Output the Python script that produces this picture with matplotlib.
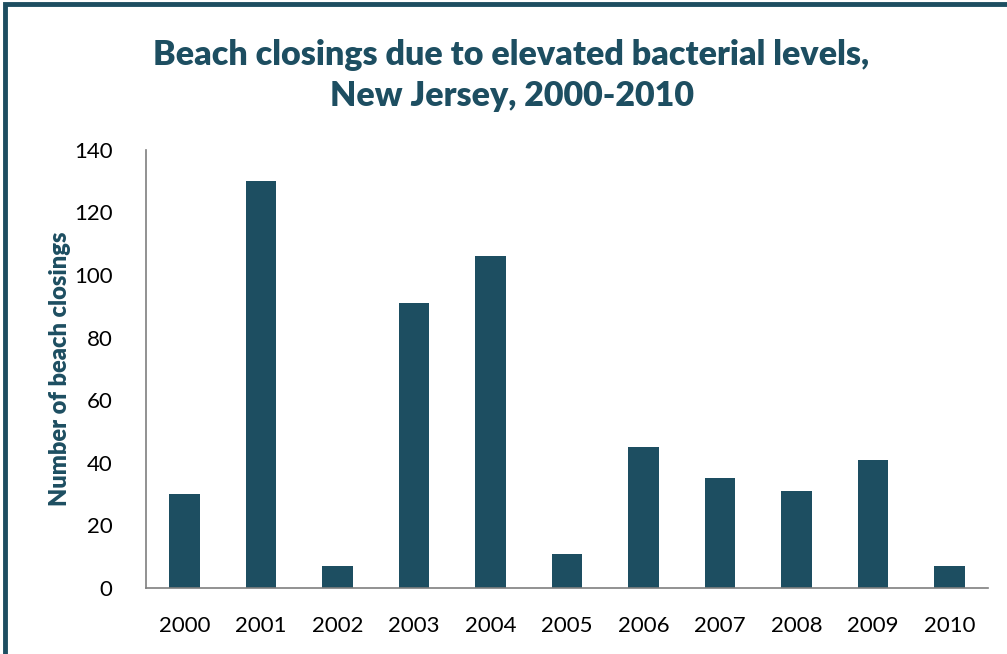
import matplotlib
matplotlib.use('Agg')
import matplotlib.pyplot as plt
from matplotlib.patches import Rectangle

years = ['2000', '2001', '2002', '2003', '2004', '2005', '2006', '2007', '2008', '2009', '2010']
closings = [30, 130, 7, 91, 106, 11, 45, 35, 31, 41, 7]
yticks = [0, 20, 40, 60, 80, 100, 120, 140]

teal = '#1D4E61'
plt.rcParams['font.family'] = ['Lato', 'DejaVu Sans']

fig = plt.figure(figsize=(10.07, 6.54), dpi=100)
ax = fig.add_axes([0.145, 0.101, 0.836, 0.670])

x = range(len(years))
ax.bar(x, closings, width=0.4, color=teal)
ax.set_xlim(-0.5, len(years) - 0.5)
ax.set_ylim(0, 140)
ax.set_yticks(yticks)
ax.set_xticks(list(x))
ax.set_xticklabels(years)
ax.tick_params(axis='both', length=0, labelsize=16, colors='black')
ax.tick_params(axis='y', pad=24)
ax.tick_params(axis='x', pad=20)

for s in ['top', 'right']:
    ax.spines[s].set_visible(False)
for s in ['left', 'bottom']:
    ax.spines[s].set_color('#7f7f7f')
    ax.spines[s].set_linewidth(1.2)

ax.set_ylabel('Number of beach closings', fontsize=17, fontweight='heavy', color=teal, labelpad=2)

fig.text(0.508, 0.885, 'Beach closings due to elevated bacterial levels,\nNew Jersey, 2000-2010',
         ha='center', va='center', fontsize=24.5, fontweight='heavy', color=teal, linespacing=1.35)

# frame around the chart
fig.patches.append(Rectangle((0.005, -0.05), 1.2, 1.044, transform=fig.transFigure,
                             fill=False, edgecolor=teal, linewidth=3.5))

fig.savefig('out.png', dpi=100, facecolor='white')
